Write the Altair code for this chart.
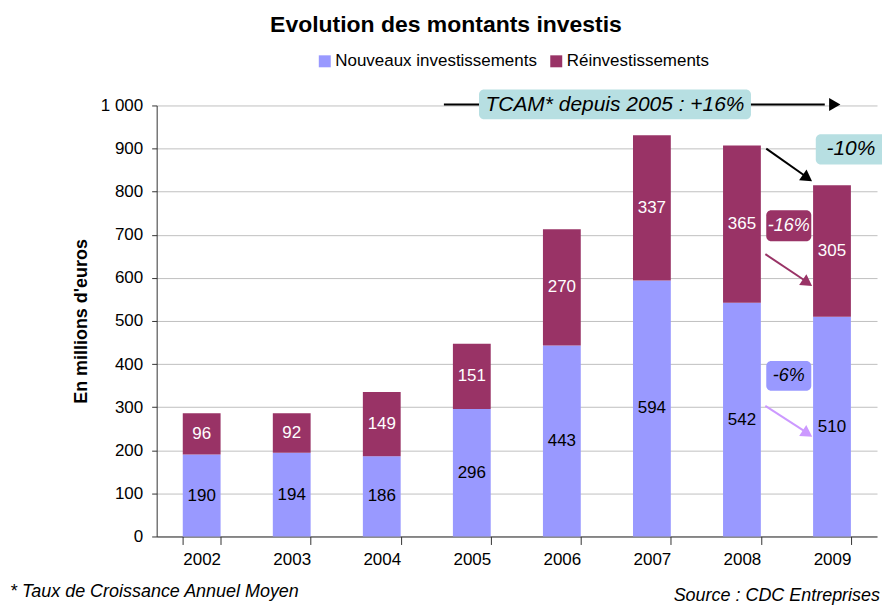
import altair as alt
import pandas as pd

years = ["2002", "2003", "2004", "2005", "2006", "2007", "2008", "2009"]
nouveaux = [190, 194, 186, 296, 443, 594, 542, 510]
reinvest = [96, 92, 149, 151, 270, 337, 365, 305]
series = ["Nouveaux investissements", "Réinvestissements"]
colors = ["#9999ff", "#993366"]
label_colors = ["black", "white"]

FONT = "Liberation Sans"

rows = []
for i, y in enumerate(years):
    rows.append({"year": y, "series": series[0], "value": nouveaux[i], "order": 0,
                 "mid": nouveaux[i] / 2, "tc": label_colors[0]})
    rows.append({"year": y, "series": series[1], "value": reinvest[i], "order": 1,
                 "mid": nouveaux[i] + reinvest[i] / 2, "tc": label_colors[1]})
df = pd.DataFrame(rows)

xband = alt.X("year:N", title=None, sort=years,
              scale=alt.Scale(paddingInner=0.58, paddingOuter=0.29),
              axis=alt.Axis(labelAngle=0, tickBand="extent", tickSize=8, labelPadding=7,
                            labelFontSize=17, labelFont=FONT, labelColor="black",
                            domainColor="#333333", tickColor="#333333", grid=False))
yscale = alt.Scale(domain=[0, 1000], nice=False)

bars = alt.Chart(df).mark_bar().encode(
    x=xband,
    y=alt.Y("value:Q", stack="zero", scale=yscale,
            title="En millions d'euros",
            axis=alt.Axis(values=list(range(0, 1001, 100)),
                          labelExpr="replace(format(datum.value, ',d'), ',', ' ')",
                          labelFontSize=17, labelFont=FONT, labelColor="black",
                          labelPadding=9,
                          titleFont=FONT, titleFontSize=18, titleFontWeight="bold",
                          titleColor="black", titlePadding=10,
                          gridColor="#c0c0c0", domainColor="#333333",
                          tickColor="#333333", tickSize=5)),
    color=alt.Color("series:N", scale=alt.Scale(domain=series, range=colors),
                    legend=alt.Legend(title=None, orient="none", direction="horizontal",
                                      legendX=160, legendY=-53, symbolType="square",
                                      symbolSize=144, symbolStrokeWidth=0,
                                      labelFont=FONT, labelFontSize=17, labelColor="black",
                                      labelLimit=0, columnPadding=10, symbolOffset=0,
                                      labelOffset=2, padding=0)),
    order=alt.Order("order:Q"),
)

labels = alt.Chart(df).mark_text(font=FONT, fontSize=17).encode(
    x=alt.X("year:N", sort=years),
    y=alt.Y("mid:Q", scale=yscale),
    text=alt.Text("value:Q"),
    color=alt.Color("tc:N", scale=None),
)

main = alt.layer(bars, labels)

# annotation overlay on an index scale (0..8 across the 8 year bands)
xq = alt.Scale(domain=[0, 8], nice=False)

boxes = pd.DataFrame([
    {"x": 3.58, "x2": 6.60, "y": 1037, "y2": 968, "fill": "#b7dfe2"},
    {"x": 7.32, "x2": 8.12, "y": 933, "y2": 863, "fill": "#b7dfe2"},
    {"x": 6.77, "x2": 7.27, "y": 757, "y2": 685, "fill": "#993366"},
    {"x": 6.77, "x2": 7.27, "y": 407, "y2": 338, "fill": "#9999ff"},
])
texts = pd.DataFrame([
    {"x": 5.09, "y": 1002, "t": "TCAM* depuis 2005 : +16%", "c": "black", "s": 21},
    {"x": 7.71, "y": 898, "t": "-10%", "c": "black", "s": 21},
    {"x": 7.02, "y": 721, "t": "-16%", "c": "white", "s": 18},
    {"x": 7.02, "y": 373, "t": "-6%", "c": "black", "s": 18},
])
lines = pd.DataFrame([
    {"x": 3.19, "x2": 7.42, "y": 1002, "y2": 1002, "c": "black"},
    {"x": 6.77, "x2": 7.19, "y": 900, "y2": 838, "c": "black"},
    {"x": 6.76, "x2": 7.19, "y": 655, "y2": 595, "c": "#993366"},
    {"x": 6.76, "x2": 7.19, "y": 303, "y2": 245, "c": "#cc99ff"},
])
heads = pd.DataFrame([
    {"x": 7.51, "y": 1002, "c": "black", "a": 90},
    {"x": 7.21, "y": 834, "c": "black", "a": 125},
    {"x": 7.21, "y": 591, "c": "#993366", "a": 124},
    {"x": 7.21, "y": 241, "c": "#cc99ff", "a": 123},
])

line_l = alt.Chart(lines).mark_rule(strokeWidth=2).encode(
    x=alt.X("x:Q", scale=xq, axis=None), x2="x2:Q",
    y=alt.Y("y:Q", scale=yscale), y2="y2:Q",
    color=alt.Color("c:N", scale=None),
)
rect_l = alt.Chart(boxes).mark_rect(cornerRadius=5).encode(
    x=alt.X("x:Q", scale=xq, axis=None), x2="x2:Q",
    y=alt.Y("y:Q", scale=yscale), y2="y2:Q",
    fill=alt.Fill("fill:N", scale=None),
)
head_l = alt.Chart(heads).mark_point(shape="triangle", filled=True, size=170, opacity=1).encode(
    x=alt.X("x:Q", scale=xq, axis=None),
    y=alt.Y("y:Q", scale=yscale),
    color=alt.Color("c:N", scale=None),
    angle=alt.Angle("a:Q", scale=None),
)
text_l = alt.Chart(texts).mark_text(font=FONT, fontStyle="italic").encode(
    x=alt.X("x:Q", scale=xq, axis=None),
    y=alt.Y("y:Q", scale=yscale),
    text="t:N",
    color=alt.Color("c:N", scale=None),
    size=alt.Size("s:Q", scale=None),
)

title_l = alt.Chart(pd.DataFrame({"t": ["Evolution des montants investis"]})).mark_text(
    font=FONT, fontWeight="bold", fontSize=23, align="center", baseline="alphabetic",
    color="black"
).encode(x=alt.value(290), y=alt.value(-74), text="t:N")
note_l = alt.Chart(pd.DataFrame({"t": ["* Taux de Croissance Annuel Moyen"]})).mark_text(
    font=FONT, fontStyle="italic", fontSize=18, align="left", color="black"
).encode(x=alt.value(-147), y=alt.value(488), text="t:N")
src_l = alt.Chart(pd.DataFrame({"t": ["Source : CDC Entreprises"]})).mark_text(
    font=FONT, fontStyle="italic", fontSize=18, align="right", color="black"
).encode(x=alt.value(725), y=alt.value(492), text="t:N")

overlay = alt.layer(line_l, rect_l, head_l, text_l, title_l, note_l, src_l)

chart = alt.layer(main, overlay).resolve_scale(x="independent").properties(
    width=722, height=432,
    autosize=alt.AutoSizeParams(type="none"),
    padding={"left": 149, "top": 97, "right": 5, "bottom": 70},
).configure_view(stroke=None).configure_axis(gridWidth=1)

chart.save("out.html", embed_options={"renderer": "svg", "actions": False})
